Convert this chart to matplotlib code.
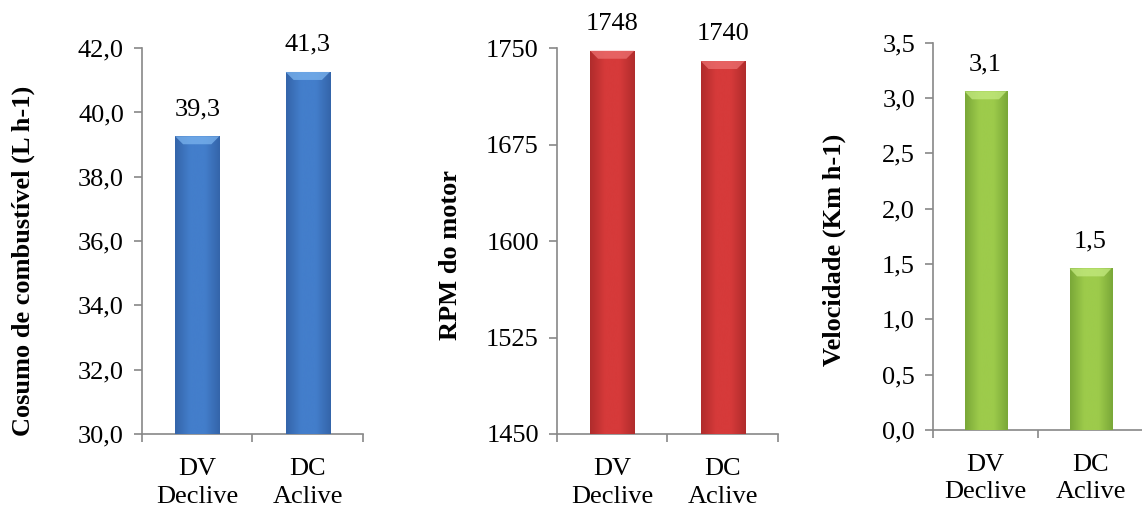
import numpy as np
import matplotlib.pyplot as plt
from matplotlib.colors import LinearSegmentedColormap
from matplotlib.patches import Polygon

plt.rcParams['font.family'] = 'Liberation Serif'
plt.rcParams['font.size'] = 19

categories = ['DV\nDeclive', 'DC\nAclive']

consumo = [39.26, 41.26]      # L h-1
rpm = [1748, 1740]
velocidade = [3.06, 1.46]     # Km h-1

consumo_ticks = [30, 32, 34, 36, 38, 40, 42]
rpm_ticks = [1450, 1525, 1600, 1675, 1750]
vel_ticks = [0.0, 0.5, 1.0, 1.5, 2.0, 2.5, 3.0, 3.5]


def shaded_bars(ax, values, edge, mid, light, ylim, top_px, ax_px):
    x = np.arange(len(values))
    heights = [v - ylim[0] for v in values]
    bars = ax.bar(x, heights, width=0.40, color=mid, zorder=2, bottom=ylim[0])
    cmap = LinearSegmentedColormap.from_list('bar', [edge, mid, mid, edge])
    grad = np.linspace(0, 1, 64).reshape(1, -1)
    bevel = (ylim[1] - ylim[0]) * top_px / ax_px
    for b in bars:
        x0, y0 = b.get_x(), b.get_y()
        w, h = b.get_width(), b.get_height()
        im = ax.imshow(grad, cmap=cmap, extent=(x0, x0 + w, y0, y0 + h),
                       aspect='auto', zorder=3, interpolation='bicubic')
        im.set_clip_path(b)
        y1 = y0 + h
        ax.add_patch(Polygon([(x0, y1), (x0 + w, y1),
                              (x0 + w * 0.82, y1 - bevel), (x0 + w * 0.18, y1 - bevel)],
                             closed=True, color=light, alpha=0.75, zorder=4, lw=0))
    return bars


def style_axes(ax, ylim, ticks, fmt):
    ax.set_xlim(-0.5, 1.5)
    ax.set_ylim(*ylim)
    ax.set_yticks(ticks)
    ax.set_yticklabels([fmt(t) for t in ticks])
    ax.set_xticks([0, 1])
    ax.set_xticklabels(categories, linespacing=1.35)
    ax.set_xticks([-0.5, 0.5, 1.5], minor=True)
    ax.tick_params(axis='x', which='major', length=0, pad=17)
    ax.tick_params(axis='x', which='minor', length=6, color='#888888', width=1.2)
    ax.tick_params(axis='y', length=6, color='#888888', width=1.2, pad=7)
    for side in ('top', 'right'):
        ax.spines[side].set_visible(False)
    for side in ('left', 'bottom'):
        ax.spines[side].set_color('#888888')
        ax.spines[side].set_linewidth(1.2)


def value_labels(ax, values, fmt):
    for i, v in enumerate(values):
        ax.annotate(fmt(v), (i, v), xytext=(0, 19.5), textcoords='offset points',
                    ha='center', va='center')


def comma(v, nd=1):
    return f'{v:.{nd}f}'.replace('.', ',')


fig = plt.figure(figsize=(11.42, 5.07), dpi=100)
ax1 = fig.add_axes([0.1243, 0.144, 0.1936, 0.761])
ax2 = fig.add_axes([0.4877, 0.144, 0.1936, 0.761])
ax3 = fig.add_axes([0.8170, 0.152, 0.1839, 0.764])

# consumo de combustivel
lim1 = (30, 42)
shaded_bars(ax1, consumo, '#3465aa', '#437ecb', '#7ab3ee', lim1, 8, 386)
style_axes(ax1, lim1, consumo_ticks, lambda t: comma(t))
value_labels(ax1, consumo, lambda v: comma(v))
ax1.set_ylabel('Cosumo de combustível (L h-1)', fontweight='bold')
ax1.yaxis.set_label_coords(-0.484, 0.448)

# rotacao do motor
lim2 = (1450, 1750)
shaded_bars(ax2, rpm, '#b02c2c', '#d63a3a', '#ec7070', lim2, 8, 386)
style_axes(ax2, lim2, rpm_ticks, lambda t: f'{t:d}')
value_labels(ax2, rpm, lambda v: f'{v:d}')
ax2.set_ylabel('RPM do motor', fontweight='bold')
ax2.yaxis.set_label_coords(-0.43, 0.464)

# velocidade de deslocamento
lim3 = (0, 3.5)
shaded_bars(ax3, velocidade, '#7aa838', '#9dcb4b', '#c4ea80', lim3, 8, 387)
style_axes(ax3, lim3, vel_ticks, lambda t: comma(t))
value_labels(ax3, velocidade, lambda v: comma(v))
ax3.set_ylabel('Velocidade (Km h-1)', fontweight='bold')
ax3.yaxis.set_label_coords(-0.414, 0.465)

fig.savefig('out.png', dpi=100)
